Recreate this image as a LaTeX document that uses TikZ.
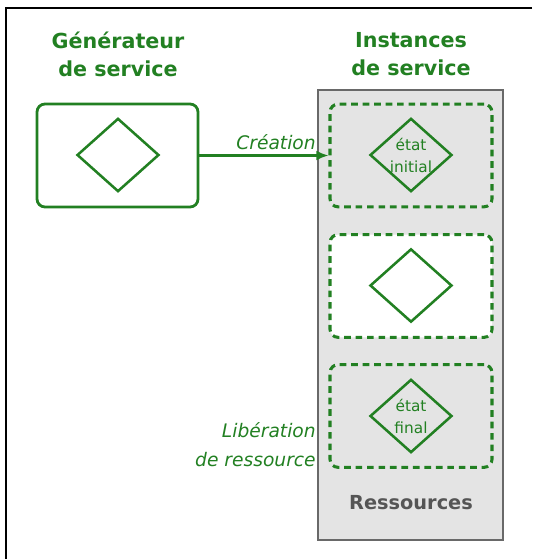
\documentclass[tikz,border=0pt]{standalone}
\usepackage{fontspec}
\setmainfont{DejaVu Sans}
\usetikzlibrary{shapes.geometric,arrows.meta}

\definecolor{vert}{RGB}{34,128,34}
\definecolor{fondgris}{RGB}{228,228,228}
\definecolor{bordgris}{RGB}{105,105,105}
\definecolor{textegris}{RGB}{85,85,85}

\tikzset{
  losange/.style={draw=vert,line width=1.9pt,shape=diamond,aspect=1.12,
    minimum width=61.5pt,minimum height=55pt,inner sep=0pt,
    text=vert,align=center,font=\fontsize{11.5}{16.5}\selectfont},
  boite/.style={draw=vert,line width=2.1pt,rounded corners=6pt,
    minimum width=120.75pt,minimum height=77.25pt},
  instance/.style={draw=vert,line width=2.3pt,dash pattern=on 5pt off 3.6pt,
    rounded corners=6pt,minimum width=121.5pt,minimum height=77pt},
  titre/.style={text=vert,align=center,font=\fontsize{15.5}{21}\selectfont\bfseries},
  etiquette/.style={text=vert,align=right,font=\fontsize{14}{21.75}\selectfont\itshape,inner sep=0pt},
}

\begin{document}
\begin{tikzpicture}[x=0.75pt,y=-0.75pt,>={Latex[length=9pt,width=7.5pt]}]

\useasboundingbox (0,0) rectangle (532,559);

% cadre
\path [draw,line width=1.1pt] (532,8) -- (6,8) -- (6,559);

% titres
\node [titre] (titregen) at (118,54) {Générateur\\de service};
\node [titre] (titreinst) at (411,54) {Instances\\de service};

% ressources
\path [draw=bordgris,fill=fondgris,line width=0.9pt] (318,90) rectangle (503,540);
\node [text=textegris,font=\fontsize{14.5}{17}\selectfont\bfseries] (ressources) at (411,503) {Ressources};

% generateur
\node [boite] (gen) at (117.5,155.5) {};
\node [losange] (genforme) at (118,155) {};

% instances
\node [instance] (inst1) at (411,155.5) {};
\node [instance,fill=white] (inst2) at (411,286) {};
\node [instance] (inst3) at (411,416) {};

\node [losange] (etatinit) at (411,155) {état\\initial};
\node [losange] (etatvide) at (411,285.5) {};
\node [losange] (etatfin) at (411,416) {état\\final};

% liens
\path [draw=vert,line width=2.1pt,->] (gen) -- (inst1);

\node [etiquette,anchor=south east] (creation) at (316,150) {Création};
\node [etiquette,anchor=east] (liberation) at (316,445) {Libération\\de ressource};

\end{tikzpicture}
\end{document}
